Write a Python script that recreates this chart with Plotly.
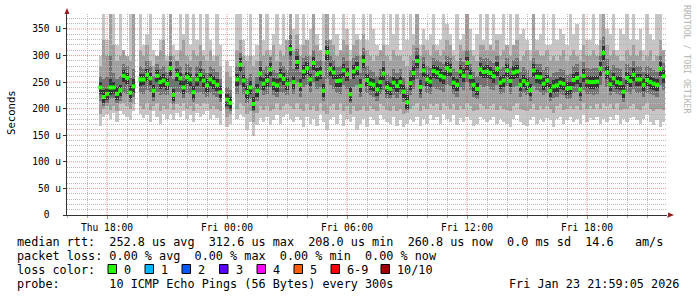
import math
import numpy as np
import pandas as pd
import plotly.graph_objects as go

W, H = 697, 297
ML, MR, MT, MB = 67, 30, 14, 82
PW, PH = W - ML - MR, H - MT - MB

def fx(px):
    return (px - ML) / PW

def fy(py):
    return (H - MB - py) / PH

N = None
START = "2026-01-22 17:40"

# median rtt (microseconds), one value per 10 minutes
median = [
    240, 222, 228, 240, 240, 228, 235, 262, 258, 230,
    242, N, 255, 255, 264, 257, 234, 262, 250, 253,
    247, 276, 226, 264, 257, 240, 259, 255, 231, 255,
    264, 253, 244, 255, 250, 245, 231, N, 217, 211,
    N, 255, 283, 253, 231, 240, 209, 234, 266, 247,
    253, 274, 247, 244, 262, 256, 247, 312, 250, 288,
    245, 270, 276, 255, 286, 265, 268, 234, 306, 275,
    268, 252, 253, 272, 265, 227, 270, 276, 243, 290,
    254, 247, 245, 236, 250, 266, 240, 237, 249, 243,
    250, 232, 212, 248, 267, 290, 241, 272, 255, 251,
    271, 268, 262, 259, 276, 272, 249, 245, 270, 262,
    286, 260, 245, 237, 274, 269, 270, 267, 261, 275,
    249, 253, 272, 252, 268, 270, 245, 252, 247, 235,
    272, 260, 259, 247, 253, 234, 242, 244, 249, 247,
    238, 239, 254, 258, 236, 262, 251, 250, 250, 251,
    275, 305, 268, 246, 257, 250, 248, 232, 258, 252,
    264, 255, 255, 245, 254, 250, 247, 245, 275, 261,
]

# smoke: outermost pair (min / max)
smoke_min = [
    168, 185, 190, 180, 192, 175, 195, 190, 185, 178,
    195, N, 190, 182, 188, 175, 195, 185, 172, 190,
    180, 190, 178, 192, 185, 195, 180, 188, 175, 192,
    185, 190, 195, 180, 188, 182, 170, N, 165, 172,
    N, 180, 190, 185, 160, 175, 148, 170, 182, 175,
    185, 170, 178, 188, 172, 185, 190, 180, 175, 185,
    178, 165, 185, 172, 180, 168, 190, 175, 160, 180,
    185, 172, 190, 168, 180, 175, 185, 160, 172, 180,
    165, 185, 178, 170, 188, 180, 175, 172, 185, 168,
    178, 165, 172, 180, 175, 185, 168, 180, 172, 188,
    178, 185, 172, 190, 180, 175, 188, 170, 182, 175,
    185, 178, 168, 172, 185, 180, 175, 178, 185, 172,
    180, 175, 172, 165, 180, 188, 175, 170, 168, 178,
    185, 172, 180, 175, 182, 178, 165, 180, 185, 172,
    178, 185, 175, 180, 172, 188, 175, 182, 178, 185,
    172, 180, 175, 185, 178, 188, 172, 180, 175, 182,
    185, 178, 172, 180, 188, 175, 170, 178, 165, 175,
]
smoke_max = [
    300, 380, 330, 380, 380, 320, 380, 310, 300, 380,
    380, N, 380, 320, 340, 380, 310, 300, 330, 380,
    300, 380, 320, 310, 380, 340, 380, 320, 380, 330,
    380, 310, 380, 330, 300, 380, 320, N, 290, 280,
    N, 380, 380, 330, 300, 380, 300, 320, 380, 330,
    380, 310, 340, 380, 320, 380, 330, 380, 350, 380,
    320, 380, 330, 350, 380, 340, 310, 380, 380, 330,
    380, 340, 310, 380, 350, 310, 380, 340, 330, 380,
    330, 380, 350, 320, 310, 380, 320, 380, 340, 380,
    310, 380, 330, 380, 340, 380, 320, 350, 330, 340,
    380, 320, 330, 380, 360, 340, 310, 380, 330, 340,
    380, 350, 310, 340, 380, 330, 380, 320, 380, 340,
    340, 380, 320, 380, 320, 380, 340, 350, 330, 310,
    380, 330, 340, 380, 320, 320, 380, 330, 350, 340,
    320, 380, 340, 360, 310, 380, 330, 330, 380, 320,
    380, 380, 350, 340, 380, 310, 350, 340, 380, 330,
    380, 330, 350, 310, 380, 340, 330, 380, 380, 310,
]
# second pair
smoke_lo2 = [
    190, 200, 205, 198, 205, 195, 208, 210, 205, 200,
    208, N, 205, 200, 210, 198, 205, 210, 195, 205,
    200, 210, 198, 208, 205, 210, 200, 205, 195, 208,
    205, 210, 208, 200, 205, 200, 195, N, 185, 188,
    N, 200, 210, 205, 190, 195, 175, 192, 205, 198,
    205, 195, 200, 210, 198, 205, 208, 205, 200, 210,
    200, 195, 208, 198, 205, 195, 210, 195, 190, 205,
    208, 198, 210, 195, 205, 190, 205, 195, 198, 205,
    195, 205, 200, 195, 208, 205, 198, 195, 205, 195,
    200, 190, 192, 200, 205, 210, 195, 205, 200, 208,
    205, 208, 198, 210, 205, 200, 208, 198, 205, 200,
    210, 205, 195, 198, 208, 205, 200, 205, 208, 198,
    205, 200, 198, 195, 205, 210, 200, 198, 195, 200,
    208, 198, 205, 200, 205, 200, 192, 205, 208, 198,
    200, 205, 200, 205, 198, 210, 200, 205, 200, 208,
    200, 210, 205, 208, 200, 210, 198, 200, 200, 205,
    208, 200, 198, 205, 210, 200, 195, 200, 200, 198,
]
smoke_hi2 = [
    280, 330, 300, 380, 320, 290, 300, 310, 300, 290,
    380, N, 310, 300, 320, 290, 280, 300, 310, 330,
    290, 380, 300, 290, 310, 330, 300, 290, 310, 300,
    320, 300, 290, 310, 290, 300, 280, N, 270, 260,
    N, 310, 330, 300, 290, 300, 280, 290, 380, 300,
    310, 300, 320, 290, 310, 300, 330, 380, 310, 340,
    300, 320, 330, 300, 380, 320, 310, 290, 380, 330,
    320, 300, 310, 330, 320, 290, 320, 330, 300, 340,
    310, 300, 290, 300, 310, 320, 300, 290, 310, 300,
    300, 290, 280, 300, 320, 380, 300, 320, 310, 300,
    320, 310, 300, 310, 330, 320, 300, 290, 320, 310,
    380, 310, 300, 290, 320, 320, 310, 320, 310, 330,
    300, 310, 320, 300, 320, 330, 290, 300, 310, 290,
    380, 310, 300, 300, 310, 290, 300, 290, 300, 310,
    290, 300, 310, 300, 290, 320, 300, 300, 310, 300,
    330, 380, 320, 300, 310, 300, 290, 290, 310, 300,
    320, 300, 310, 290, 300, 310, 290, 300, 330, 310,
]
# third pair
smoke_lo3 = [
    215, 205, 210, 218, 220, 210, 215, 230, 228, 212,
    222, N, 230, 228, 235, 232, 215, 232, 225, 228,
    225, 240, 208, 232, 230, 220, 230, 228, 212, 230,
    232, 228, 222, 230, 225, 222, 212, N, 200, 195,
    N, 228, 245, 228, 210, 218, 195, 215, 235, 225,
    228, 240, 225, 222, 232, 230, 225, 250, 228, 250,
    222, 240, 245, 230, 250, 238, 240, 215, 255, 245,
    238, 230, 228, 245, 238, 210, 240, 245, 222, 255,
    230, 225, 222, 215, 228, 235, 220, 218, 225, 220,
    228, 212, 198, 225, 238, 255, 220, 242, 230, 228,
    240, 238, 235, 232, 245, 242, 228, 222, 240, 235,
    250, 235, 222, 218, 245, 240, 242, 238, 235, 245,
    228, 230, 242, 228, 240, 242, 222, 230, 225, 215,
    242, 235, 232, 225, 230, 215, 220, 222, 228, 225,
    218, 218, 230, 232, 215, 235, 228, 228, 226, 228,
    245, 270, 240, 225, 232, 228, 226, 212, 232, 228,
    238, 230, 230, 222, 230, 228, 225, 222, 245, 235,
]
smoke_hi3 = [
    262, 255, 260, 300, 268, 255, 262, 285, 280, 258,
    275, N, 280, 275, 290, 280, 262, 285, 275, 280,
    270, 300, 255, 290, 280, 265, 285, 278, 260, 280,
    290, 275, 268, 280, 275, 270, 255, N, 240, 235,
    N, 280, 305, 280, 258, 265, 240, 260, 290, 272,
    280, 298, 272, 268, 288, 280, 272, 340, 275, 312,
    270, 295, 300, 280, 310, 290, 292, 260, 330, 300,
    292, 278, 280, 298, 290, 255, 295, 300, 268, 315,
    280, 272, 270, 262, 275, 290, 265, 262, 275, 268,
    275, 258, 240, 272, 292, 315, 268, 298, 280, 276,
    296, 292, 288, 284, 300, 296, 275, 270, 295, 288,
    310, 285, 270, 262, 298, 294, 295, 292, 286, 300,
    274, 278, 296, 276, 292, 295, 270, 278, 272, 260,
    296, 285, 284, 272, 278, 260, 268, 270, 274, 272,
    264, 265, 280, 284, 262, 288, 276, 275, 276, 276,
    300, 335, 294, 272, 282, 276, 274, 258, 284, 278,
    290, 280, 280, 270, 280, 276, 272, 270, 300, 286,
]
# innermost pairs
smoke_lo4 = [
    228, 210, 216, 226, 228, 216, 224, 250, 246, 218,
    230, N, 243, 244, 252, 245, 222, 250, 238, 241,
    235, 262, 214, 252, 245, 228, 246, 243, 219, 243,
    252, 241, 232, 243, 238, 233, 219, N, 205, 200,
    N, 243, 270, 241, 219, 228, 198, 222, 252, 235,
    241, 262, 235, 232, 250, 244, 235, 300, 238, 274,
    233, 256, 264, 243, 272, 252, 256, 222, 292, 262,
    256, 240, 240, 260, 252, 214, 256, 264, 230, 276,
    242, 235, 233, 224, 238, 254, 228, 225, 237, 231,
    238, 220, 200, 236, 254, 276, 228, 260, 243, 239,
    258, 256, 250, 247, 262, 260, 237, 233, 257, 250,
    272, 248, 233, 225, 262, 257, 258, 255, 249, 262,
    237, 241, 260, 240, 256, 258, 233, 240, 235, 223,
    260, 248, 247, 235, 241, 222, 230, 232, 237, 235,
    226, 227, 242, 246, 224, 250, 239, 238, 238, 239,
    262, 292, 256, 234, 245, 238, 236, 220, 246, 240,
    252, 243, 243, 233, 242, 238, 235, 233, 262, 249,
]
smoke_hi4 = [
    250, 235, 238, 255, 250, 240, 245, 272, 268, 242,
    255, N, 266, 265, 275, 268, 245, 272, 262, 265,
    258, 288, 238, 275, 268, 252, 270, 266, 243, 266,
    275, 264, 256, 266, 262, 256, 242, N, 228, 222,
    N, 266, 295, 264, 242, 252, 222, 246, 278, 258,
    265, 286, 258, 256, 274, 268, 258, 322, 262, 300,
    256, 282, 288, 266, 298, 276, 280, 246, 318, 286,
    280, 264, 265, 284, 276, 240, 282, 288, 255, 302,
    266, 258, 256, 248, 262, 278, 252, 248, 260, 255,
    262, 244, 225, 260, 280, 302, 254, 284, 266, 262,
    283, 280, 274, 270, 288, 284, 260, 256, 282, 274,
    298, 272, 256, 248, 286, 281, 282, 279, 272, 287,
    261, 264, 284, 263, 280, 282, 256, 264, 258, 246,
    284, 272, 270, 258, 264, 246, 254, 256, 260, 258,
    250, 250, 266, 270, 248, 274, 262, 262, 262, 262,
    287, 318, 280, 258, 268, 262, 260, 244, 270, 264,
    276, 266, 266, 256, 266, 262, 258, 256, 288, 273,
]

y_tick_vals = [0, 50, 100, 150, 200, 250, 300, 350]
y_tick_text = ["0\u00a0\u00a0", "50 u", "100 u", "150 u", "200 u", "250 u", "300 u", "350 u"]

loss_labels = ["0", "1", "2", "3", "4", "5", "6-9", "10/10"]
loss_colors = ["#26ff00", "#00b8ff", "#0059ff", "#5e00ff", "#ff00ff", "#ff5e00", "#ff0000", "#a10000"]

stats_line = "median rtt:  252.8 us avg  312.6 us max  208.0 us min  260.8 us now  0.0 ms sd  14.6   am/s"
loss_line = "packet loss: 0.00 % avg  0.00 % max  0.00 % min  0.00 % now"
probe_line = "probe:       10 ICMP Echo Pings (56 Bytes) every 300s"
stamp = "Fri Jan 23 21:59:05 2026"

# ---------------------------------------------------------------
times = pd.date_range(START, periods=len(median), freq="10min")

def arr(a):
    return np.array([np.nan if v is None else v for v in a], dtype=float)

MONO = "DejaVu Sans Mono"
fig = go.Figure()
bands = [
    (smoke_min, smoke_max, "#c6c6c6"),
    (smoke_lo2, smoke_hi2, "#a0a0a0"),
    (smoke_lo3, smoke_hi3, "#727272"),
    (smoke_lo4, smoke_hi4, "#333333"),
]
for lo, hi, col in bands:
    lo_a, hi_a = arr(lo), arr(hi)
    fig.add_trace(go.Bar(x=times, y=hi_a - lo_a, base=lo_a, width=640000,
                         marker=dict(color=col, line=dict(width=0)),
                         hoverinfo="skip", showlegend=False))
fig.add_trace(go.Scatter(x=times, y=arr(median), mode="markers",
                         marker=dict(symbol="square", size=4, color="#26ff00", line=dict(width=0)),
                         hoverinfo="skip", showlegend=False))

x0 = pd.Timestamp("2026-01-22 16:00")
x1 = pd.Timestamp("2026-01-23 22:00")
YMAX = 378.2
half_px_time = pd.Timedelta(seconds=(x1 - x0).total_seconds() / PW / 2)

RED = "rgba(245,70,70,0.62)"
GREY = "#b8b8b8"
minor_shapes, major_shapes = [], []
for t in pd.date_range(x0 + pd.Timedelta(hours=1), x1 - pd.Timedelta(hours=1), freq="1h"):
    if t.hour % 6 == 0:
        major_shapes.append(dict(type="line", xref="x", yref="paper", x0=t, x1=t, y0=0, y1=1,
                                 layer="above", line=dict(color=RED, width=1, dash="1px,1px")))
    else:
        tt = t + half_px_time
        minor_shapes.append(dict(type="line", xref="x", yref="paper", x0=tt, x1=tt, y0=0, y1=1,
                                 layer="above", line=dict(color=GREY, width=1, dash="1px,1px")))
for v in range(10, int(YMAX) + 1, 10):
    if v % 50 == 0:
        major_shapes.append(dict(type="line", xref="paper", yref="y", x0=0, x1=1, y0=v, y1=v,
                                 layer="above", line=dict(color=RED, width=1, dash="1px,1px")))
    else:
        py = MT + PH * (1 - v / YMAX)
        yv = (1 - (math.floor(py) + 0.5 - MT) / PH) * YMAX
        minor_shapes.append(dict(type="line", xref="paper", yref="y", x0=0, x1=1, y0=yv, y1=yv,
                                 layer="above", line=dict(color=GREY, width=1, dash="1px,1px")))
shapes = minor_shapes + major_shapes

ARROW = "#9b1c1c"
shapes.append(dict(type="path", xref="paper", yref="paper", fillcolor=ARROW, line=dict(width=0),
                   path=f"M {fx(64.5)} {fy(14)} L {fx(69.5)} {fy(14)} L {fx(67)} {fy(8)} Z"))
shapes.append(dict(type="path", xref="paper", yref="paper", fillcolor=ARROW, line=dict(width=0),
                   path=f"M {fx(668)} {fy(212.5)} L {fx(668)} {fy(217.5)} L {fx(674)} {fy(215)} Z"))

box_left = [108, 145, 182, 219.5, 257, 294, 331, 381]
for bx, col in zip(box_left, loss_colors):
    shapes.append(dict(type="rect", xref="paper", yref="paper",
                       x0=fx(bx), x1=fx(bx + 8.5), y0=fy(273.5), y1=fy(264.5),
                       fillcolor=col, line=dict(color="#000000", width=1)))

ann = []
def text(s, px, py, size=11.8, xanchor="left", color="#000000", angle=0):
    ann.append(dict(text=s.replace(" ", "\u00a0"), x=fx(px), y=fy(py), xref="paper", yref="paper",
                    xanchor=xanchor, yanchor="middle", showarrow=False, textangle=angle,
                    font=dict(family=MONO, size=size, color=color)))

text(stats_line, 15, 241.5)
text(loss_line, 15, 255.5)
text("loss color:", 15, 269.5)
for bx, lab in zip(box_left, loss_labels):
    text(lab, bx + 14, 269.5)
text(probe_line, 15, 283.5)
text(stamp, 681, 283.5, xanchor="right")
text("Seconds", 11, 113, size=10.6, xanchor="center", angle=-90)
text("RRDTOOL / TOBI OETIKER", 687, 59, size=8.2, xanchor="center", color="#b4b4b4", angle=90)

fig.update_layout(
    width=W, height=H, margin=dict(l=ML, r=MR, t=MT, b=MB, pad=0),
    paper_bgcolor="#ffffff", plot_bgcolor="#ffffff",
    barmode="overlay", bargap=0, showlegend=False,
    shapes=shapes, annotations=ann,
    font=dict(family=MONO, size=9.6, color="#000000"),
    xaxis=dict(type="date", range=[x0, x1], tickformat="%a %H:%M",
               tick0="2026-01-22 00:00", dtick=6 * 3600000,
               ticks="outside", ticklen=3, tickcolor="#f07272",
               showline=True, linecolor="#333333", linewidth=1,
               showgrid=False, zeroline=False,
               tickfont=dict(family=MONO, size=9.6, color="#000000"),
               minor=dict(dtick=3600000, ticks="outside", ticklen=2, tickcolor="#aaaaaa", showgrid=False)),
    yaxis=dict(range=[0, YMAX], tickvals=y_tick_vals, ticktext=y_tick_text,
               ticks="outside", ticklen=3, tickcolor="#333333",
               showline=True, linecolor="#333333", linewidth=1,
               showgrid=False, zeroline=False,
               tickfont=dict(family=MONO, size=9.6, color="#000000")),
)

fig.write_html("out.html")
